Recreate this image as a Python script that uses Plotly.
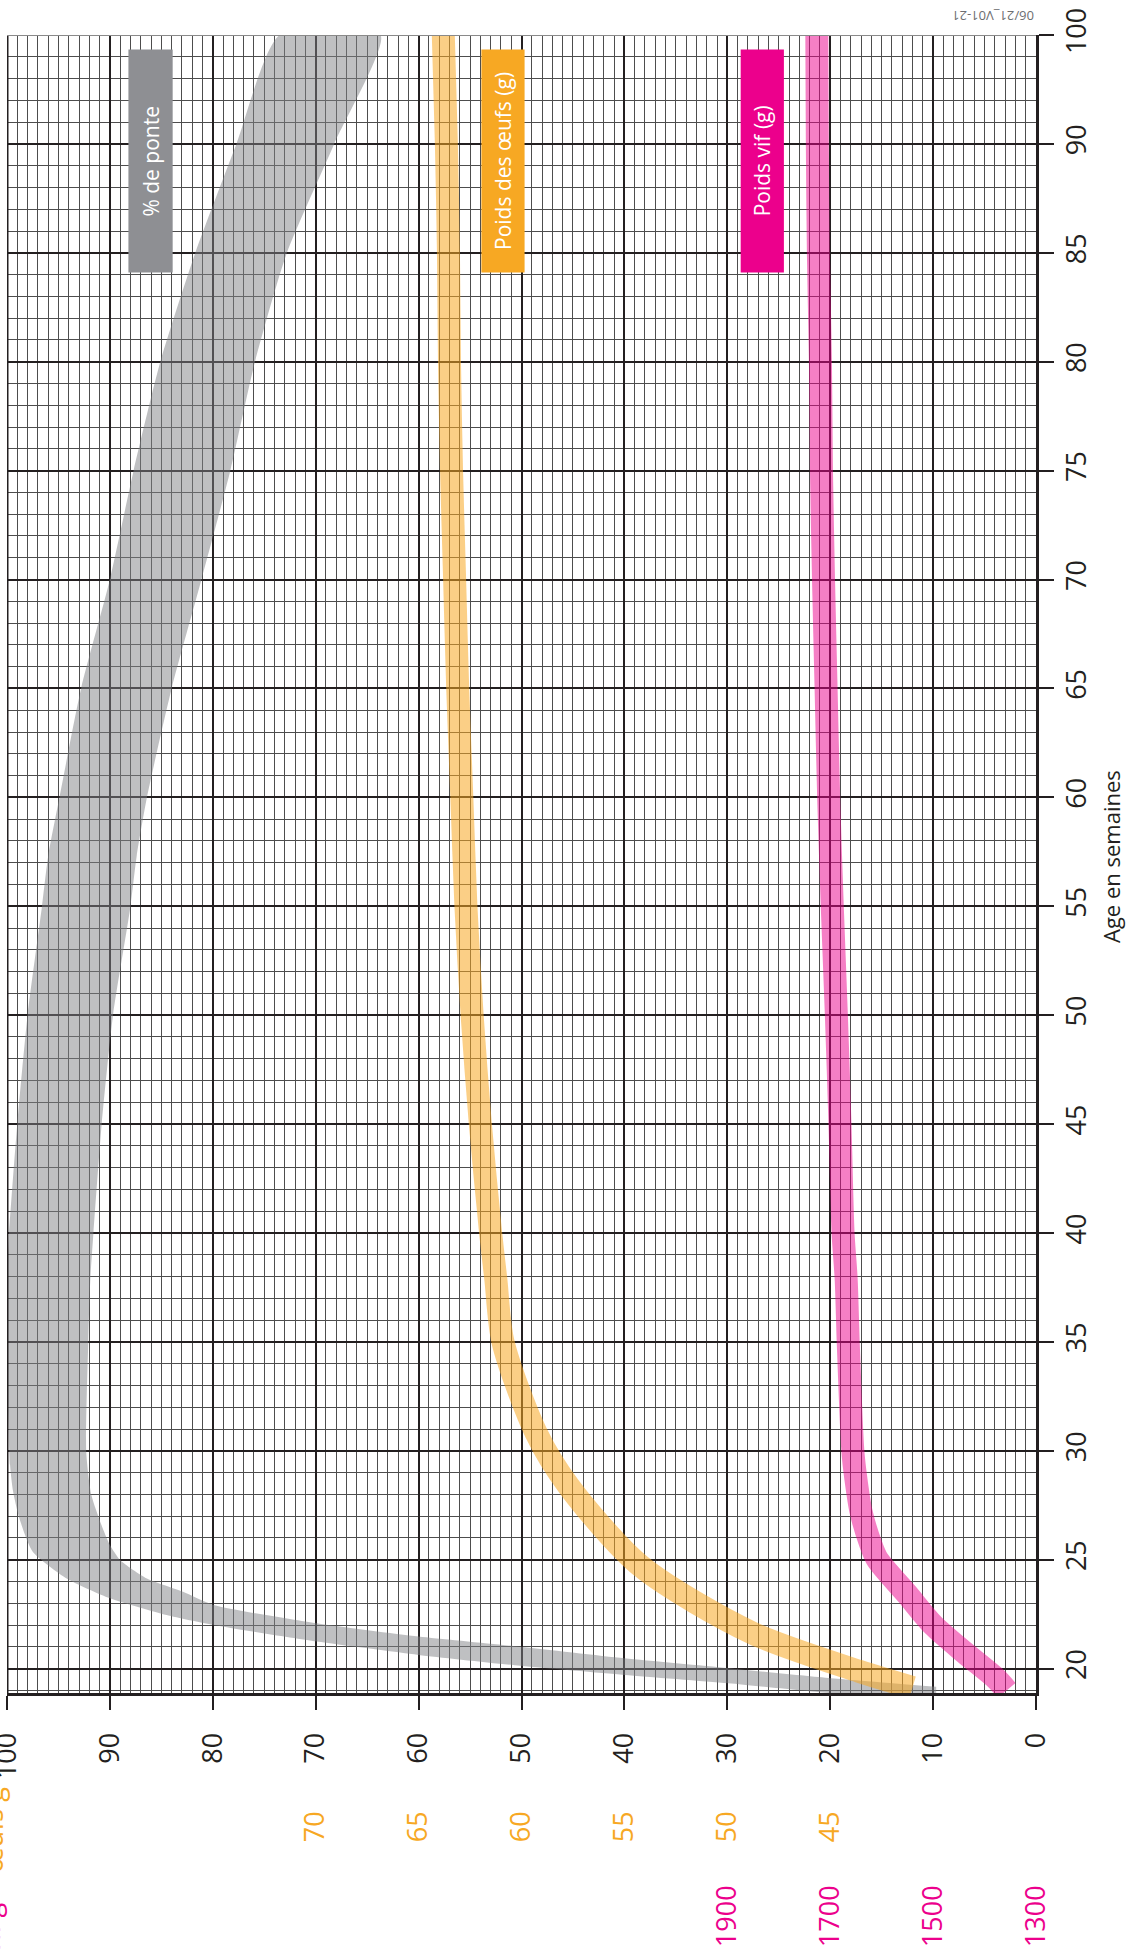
import plotly.graph_objects as go

# ---------------- Données ----------------
# % de ponte : bande entre une limite haute et une limite basse
ponte_haut_age = [18.5, 18.87, 19.33, 19.71, 20.13, 20.63, 21.24, 22.0, 22.46, 23.23, 24.14, 25.37,
                  26.9, 28.12, 29.34, 35, 37.9, 40, 45, 50, 55, 57.3, 60, 65, 70, 75, 80, 85, 90, 100]
ponte_haut = [9.7, 19.9, 29.9, 40.0, 50.1, 60.0, 69.9, 79.9, 84.5, 90.0, 94.2, 97.5,
              98.8, 99.4, 99.7, 100.0, 100.0, 99.8, 99.0, 98.0, 96.6, 96.0, 94.9, 92.8, 90.0, 87.7,
              85.1, 81.7, 77.7, 73.5]
ponte_bas_age = [19.17, 19.56, 20.02, 20.47, 21.0, 21.47, 22.08, 22.92, 23.53, 24.14, 24.98, 25.67,
                 26.44, 27.97, 29.95, 35, 37.9, 40, 45, 50, 55, 57.3, 60, 65, 70, 75, 80, 85, 90, 100]
ponte_bas = [9.7, 19.9, 29.9, 40.0, 50.1, 60.0, 69.9, 79.9, 82.9, 86.4, 89.0, 90.0,
             90.7, 91.8, 92.3, 92.1, 91.9, 91.6, 90.8, 89.7, 88.0, 87.4, 86.4, 84.0, 81.1, 78.3,
             75.9, 72.8, 68.2, 63.7]

# Poids des oeufs (g)
oeuf_age = [19.13, 19.88, 21.64, 24.7, 28.37, 30.84, 35, 37.9, 40, 45, 50, 55, 60, 65, 70, 75,
            80, 85, 90, 100]
oeuf_poids = [41.0, 43.6, 48.8, 54.2, 57.7, 59.3, 60.9, 61.25, 61.5, 62.0, 62.4, 62.7, 62.9, 63.1,
              63.25, 63.4, 63.5, 63.55, 63.65, 63.8]

# Poids vif (g)
vif_age = [19.0, 19.55, 20.7, 22.0, 23.4, 25.0, 25.7, 27.2, 28.7, 30, 35, 37.9, 40, 45, 50, 55,
           60, 65, 70, 75, 80, 85, 90, 100]
vif_poids = [1357, 1378, 1437, 1500, 1550, 1608, 1621, 1640, 1650, 1656, 1665, 1669, 1675, 1681,
             1688, 1696, 1703, 1708, 1713, 1717, 1719, 1723, 1725, 1726]

# Graduations
age_ticks = [20, 25, 30, 35, 40, 45, 50, 55, 60, 65, 70, 75, 80, 85, 90, 100]
pct_ticks = [0, 10, 20, 30, 40, 50, 60, 70, 80, 90, 100]
oeuf_ticks = [45, 50, 55, 60, 65, 70]
vif_ticks = [1300, 1500, 1700, 1900]

# ---------------- Mise en page ----------------
W, H = 1128, 1953
ML, MR, MT, MB = 7, 92, 35, 260
PW, PH = W - ML - MR, H - MT - MB
AGE_MIN = 18.88

BLACK = "#231f20"
GREY_BOX = "#8e8f93"
ORANGE = "#f7a823"
PINK = "#ec008c"
FONT = "Open Sans"
TICK_SIZE = 27


def pos(a):
    """Axe des âges : 1 semaine par case jusqu'à 90, puis 2 semaines par case."""
    return a if a <= 90 else 90 + (a - 90) / 2.0


def px_x(px):
    return (px - ML) / PW


def px_y(py):
    return (H - MB - py) / PH


fig = go.Figure()

# Bande grise : % de ponte
xs = ponte_haut + ponte_bas[::-1]
ys = [pos(a) for a in ponte_haut_age] + [pos(a) for a in ponte_bas_age[::-1]]
fig.add_trace(go.Scatter(
    x=xs, y=ys, fill="toself", mode="lines",
    fillcolor="rgba(128,130,134,0.5)",
    line=dict(width=0, shape="spline", smoothing=0.6),
    xaxis="x", yaxis="y", hoverinfo="skip"))

# Poids des oeufs
fig.add_trace(go.Scatter(
    x=oeuf_poids, y=[pos(a) for a in oeuf_age], mode="lines",
    line=dict(color="rgba(247,168,35,0.55)", width=23, shape="spline", smoothing=0.8),
    xaxis="x2", yaxis="y", hoverinfo="skip"))

# Poids vif
fig.add_trace(go.Scatter(
    x=vif_poids, y=[pos(a) for a in vif_age], mode="lines",
    line=dict(color="rgba(236,0,140,0.5)", width=23, shape="spline", smoothing=0.8),
    xaxis="x3", yaxis="y", hoverinfo="skip"))

tickfont = dict(family=FONT, size=TICK_SIZE, color=BLACK)

fig.update_layout(
    width=W, height=H,
    margin=dict(l=ML, r=MR, t=MT, b=MB, pad=0, autoexpand=False),
    paper_bgcolor="white", plot_bgcolor="white",
    showlegend=False,
    xaxis=dict(
        range=[100, 0], tickvals=pct_ticks, ticktext=[str(v) for v in pct_ticks],
        tickangle=-90, tickfont=tickfont, ticks="outside", ticklen=14, tickwidth=2,
        tickcolor=BLACK, ticklabelstandoff=12, ticklabeloverflow="allow", automargin=False,
        showgrid=True, gridcolor=BLACK, gridwidth=2,
        minor=dict(dtick=1, tick0=0, showgrid=True, gridcolor="#4d4d4d", gridwidth=1, ticks=""),
        showline=True, linecolor=BLACK, linewidth=3, zeroline=False, fixedrange=True),
    xaxis2=dict(
        range=[85, 35], overlaying="x", anchor="y", side="bottom",
        tickvals=oeuf_ticks, ticktext=[str(v) for v in oeuf_ticks],
        tickangle=-90, tickfont=dict(family=FONT, size=TICK_SIZE, color=ORANGE),
        ticks="", showgrid=False, showline=False, zeroline=False, automargin=False,
        ticklabelstandoff=112, ticklabeloverflow="allow"),
    xaxis3=dict(
        range=[3300, 1300], overlaying="x", anchor="y", side="bottom",
        tickvals=vif_ticks, ticktext=[str(v) for v in vif_ticks],
        tickangle=-90, tickfont=dict(family=FONT, size=TICK_SIZE, color=PINK),
        ticks="", showgrid=False, showline=False, zeroline=False, automargin=False,
        ticklabelstandoff=186, ticklabeloverflow="allow"),
    yaxis=dict(
        range=[pos(AGE_MIN), pos(100)], side="right",
        tickvals=[pos(a) for a in age_ticks], ticktext=[str(a) for a in age_ticks],
        tickangle=-90, tickfont=tickfont, ticks="outside", ticklen=15, tickwidth=2,
        tickcolor=BLACK, ticklabeloverflow="allow", automargin=False,
        showgrid=True, gridcolor=BLACK, gridwidth=2,
        minor=dict(dtick=1, tick0=20, showgrid=True, gridcolor="#4d4d4d", gridwidth=1, ticks=""),
        showline=True, linecolor=BLACK, linewidth=3, zeroline=False, fixedrange=True),
)

# Bords gauche et haut
fig.add_shape(type="line", xref="x", yref="paper", x0=100, x1=100, y0=0, y1=1,
              line=dict(color=BLACK, width=3))
fig.add_shape(type="line", xref="paper", yref="y", x0=0, x1=1, y0=pos(100), y1=pos(100),
              line=dict(color="#8a8a8a", width=2))

# Étiquettes des courbes
boxes = [
    ("% de ponte", GREY_BOX, 88.2, 83.9),
    ("Poids des œufs (g)", ORANGE, 53.9, 49.7),
    ("Poids vif (g)", PINK, 28.7, 24.5),
]
for label, col, x0, x1 in boxes:
    fig.add_shape(type="rect", xref="x", yref="y", x0=x0, x1=x1, y0=84.1, y1=94.33,
                  fillcolor=col, line=dict(width=0), layer="above")
    fig.add_annotation(x=(x0 + x1) / 2, y=(84.1 + 94.33) / 2, xref="x", yref="y",
                       xanchor="center", yanchor="middle",
                       text=label, textangle=-90, showarrow=False,
                       font=dict(family=FONT, size=21, color="white"))

# Titre de l'axe des âges
fig.add_annotation(x=px_x(1111), y=px_y(857), xref="paper", yref="paper",
                   xanchor="center", yanchor="middle",
                   text="Age en semaines", textangle=-90, showarrow=False,
                   font=dict(family=FONT, size=22, color=BLACK))

# Référence du document (à l'envers)
fig.add_annotation(x=px_x(993), y=px_y(16), xref="paper", yref="paper",
                   xanchor="center", yanchor="middle",
                   text="06/21_V01-21", textangle=180, showarrow=False,
                   font=dict(family=FONT, size=13, color="#6d6e71"))

# Titres d'échelles coupés au bord gauche (seul le bas des lettres dépasse)
fig.add_annotation(x=px_x(-8), y=px_y(1830), xref="paper", yref="paper",
                   xanchor="center", yanchor="middle",
                   text="œufs g", textangle=-90, showarrow=False,
                   font=dict(family=FONT, size=TICK_SIZE, color=ORANGE))
fig.add_annotation(x=px_x(-11), y=px_y(1929), xref="paper", yref="paper",
                   xanchor="center", yanchor="middle",
                   text="vif g", textangle=-90, showarrow=False,
                   font=dict(family=FONT, size=TICK_SIZE, color=PINK))

fig.write_html(
    "out.html",
    config={"displayModeBar": False},
    post_script="document.body.style.margin='0';document.body.style.padding='0';",
)
